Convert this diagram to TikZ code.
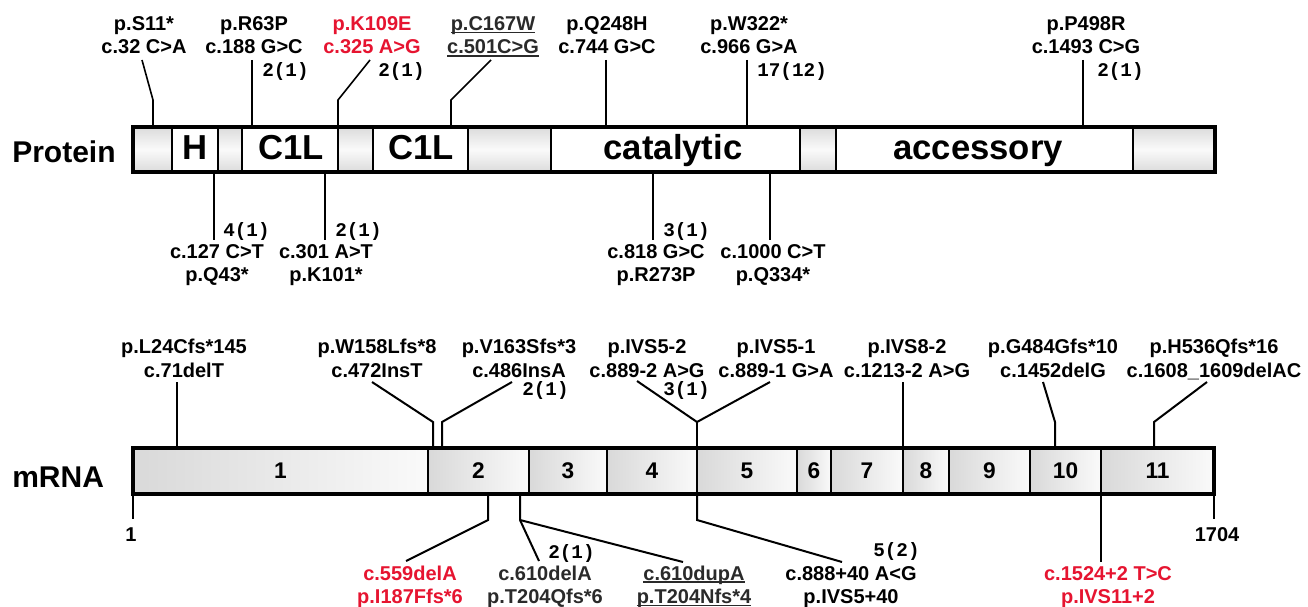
\documentclass[tikz,border=0pt]{standalone}
\usepackage{fontspec}
\setmainfont{Liberation Sans}
\newfontfamily\cntfont{Liberation Mono}
\usetikzlibrary{calc}
\definecolor{mred}{RGB}{230,20,48}
\definecolor{dgray}{RGB}{42,42,42}
\newcommand\toplab[2]{\begin{tabular}[b]{@{}c@{}}#1\\#2\end{tabular}}
\newcommand\botlab[2]{\begin{tabular}[t]{@{}c@{}}#1\\#2\end{tabular}}
\newcommand\myul[1]{\setbox0\hbox{#1}\rlap{\rule[-2pt]{\wd0}{1pt}}\box0}
\tikzset{
  lab/.style={font=\fontsize{15}{17.6}\selectfont\bfseries, inner sep=0pt, outer sep=0pt, anchor=base},
  cnt/.style={font=\cntfont\fontsize{14.5}{16}\selectfont\bfseries, inner sep=0pt, anchor=west},
  pconn/.style={line width=1.2pt},
  mconn/.style={line width=1.5pt},
  segbase/.style={draw, line width=1.6pt, inner sep=0pt, outer sep=0pt, anchor=north west},
  pg/.style={segbase, minimum height=33.75pt, top color=gray!28, bottom color=gray!28, middle color=gray!4},
  pw/.style={segbase, minimum height=33.75pt, fill=white},
  ex/.style={segbase, minimum height=34.5pt, left color=gray!30, right color=gray!4, font=\fontsize{17}{20}\selectfont\bfseries},
  frame/.style={draw, line width=2.5pt, inner sep=0pt, outer sep=0pt, anchor=north west},
  dom/.style={font=\fontsize{26}{30}\selectfont\bfseries, inner sep=0pt, anchor=base},
  side/.style={font=\fontsize{22.5}{27}\selectfont\bfseries, inner sep=0pt, anchor=base west},
}
\begin{document}
\begin{tikzpicture}[x=0.75pt,y=-0.75pt]
\useasboundingbox (0,0) rectangle (1308,606);
\fill[white] (0,0) rectangle (1308,606);

% ---------------- Protein bar
\foreach \a/\b/\s/\nm in {133/172/pg/ps1, 172/218/pw/ps2, 218/242/pg/ps3, 242/338/pw/ps4, 338/373/pg/ps5, 373/468/pw/ps6, 468/551/pg/ps7, 551/800/pw/ps8, 800/836/pg/ps9, 836/1133/pw/ps10, 1133/1215/pg/ps11}
  \node[\s, minimum width={(\b-\a)*0.75pt}] (\nm) at (\a,127) {};
\node[frame, minimum width={1082*0.75pt}, minimum height=33.75pt] (prot) at (133,127) {};

\node[dom] (dH) at (195,160) {H};
\node[dom] (dC1) at (291,160) {C1L};
\node[dom] (dC2) at (421,160) {C1L};
\node[dom] (dcat) at (673,160) {catalytic};
\node[dom] (dacc) at (978,160) {accessory};

\node[side] (protlbl) at (12,162) {Protein};

% top protein labels
\node[lab] (tS11) at (144,54) {\toplab{p.S11*}{c.32 C>A}};
\node[lab] (tR63) at (254,54) {\toplab{p.R63P}{c.188 G>C}};
\node[lab, text=mred] (tK109) at (372,54) {\toplab{p.K109E}{c.325 A>G}};
\node[lab, text=dgray] (tC167) at (493,54) {\toplab{\myul{p.C167W}}{\myul{c.501C>G}}};
\node[lab] (tQ248) at (607,54) {\toplab{p.Q248H}{c.744 G>C}};
\node[lab] (tW322) at (749,54) {\toplab{p.W322*}{c.966 G>A}};
\node[lab] (tP498) at (1086,54) {\toplab{p.P498R}{c.1493 C>G}};

\node[cnt] (cR63) at (262,72) {2(1)};
\node[cnt] (cK109) at (378,72) {2(1)};
\node[cnt] (cW322) at (757,72) {17(12)};
\node[cnt] (cP498) at (1097,72) {2(1)};

\coordinate (sS11) at ([shift={(-2,6)}]tS11.base);
\coordinate (sR63) at ([shift={(-2,6)}]tR63.base);
\coordinate (sK109) at ([shift={(-2,6)}]tK109.base);
\coordinate (sC167) at ([shift={(-2,6)}]tC167.base);
\coordinate (sQ248) at ([shift={(-1,6)}]tQ248.base);
\coordinate (sW322) at ([shift={(-2,6)}]tW322.base);
\coordinate (sP498) at ([shift={(-3,6)}]tP498.base);
\coordinate (bS11) at (153,100);
\coordinate (bK109) at (338,100);
\coordinate (bC167) at (451,100);

\draw[pconn] (sS11) -- (bS11) -- (bS11 |- prot.north);
\draw[pconn] (sR63) -- (sR63 |- prot.north);
\draw[pconn] (sK109) -- (bK109) -- (bK109 |- prot.north);
\draw[pconn] (sC167) -- (bC167) -- (bC167 |- prot.north);
\draw[pconn] (sQ248) -- (sQ248 |- prot.north);
\draw[pconn] (sW322) -- (sW322 |- prot.north);
\draw[pconn] (sP498) -- (sP498 |- prot.north);

% bottom protein labels
\node[lab] (bQ43) at (217,258) {\botlab{c.127 C>T}{p.Q43*}};
\node[lab] (bK101) at (326,258) {\botlab{c.301 A>T}{p.K101*}};
\node[lab] (bR273) at (656,258) {\botlab{c.818 G>C}{p.R273P}};
\node[lab] (bQ334) at (773,258) {\botlab{c.1000 C>T}{p.Q334*}};

\node[cnt] (cQ43) at (223,231) {4(1)};
\node[cnt] (cK101) at (335,231) {2(1)};
\node[cnt] (cR273) at (663,231) {3(1)};

\coordinate (eQ43) at ([shift={(-3,-18)}]bQ43.base);
\coordinate (eK101) at ([shift={(-1,-18)}]bK101.base);
\coordinate (eR273) at ([shift={(-3,-18)}]bR273.base);
\coordinate (eQ334) at ([shift={(-3,-18)}]bQ334.base);
\draw[pconn] (eQ43 |- prot.south) -- (eQ43);
\draw[pconn] (eK101 |- prot.south) -- (eK101);
\draw[pconn] (eR273 |- prot.south) -- (eR273);
\draw[pconn] (eQ334 |- prot.south) -- (eQ334);

% ---------------- mRNA bar
\foreach \a/\b/\t/\nm in {133/428/1/e1, 428/529/2/e2, 529/607/3/e3, 607/697/4/e4, 697/797/5/e5, 797/831/6/e6, 831/903/7/e7, 903/949/8/e8, 949/1030/9/e9, 1030/1101/10/e10, 1101/1214/11/e11}
  \node[ex, minimum width={(\b-\a)*0.75pt}] (\nm) at (\a,448) {\t};
\node[frame, minimum width={1081*0.75pt}, minimum height=34.5pt] (mrna) at (133,448) {};

\node[side] (mrnalbl) at (12,487) {mRNA};

\node[lab, font=\fontsize{15}{18}\selectfont\bfseries] (one) at (131,541) {1};
\node[lab, font=\fontsize{15}{18}\selectfont\bfseries] (len) at (1217,541) {1704};
\coordinate (tk1) at (133,519);
\coordinate (tk2) at (1214,519);
\draw[mconn] (mrna.south west) -- (tk1);
\draw[mconn] (mrna.south east) -- (tk2);

% top mRNA labels
\node[lab] (mL24) at (184,377) {\toplab{p.L24Cfs*145}{c.71delT}};
\node[lab] (mW158) at (377,377) {\toplab{p.W158Lfs*8}{c.472InsT}};
\node[lab] (mV163) at (519,377) {\toplab{p.V163Sfs*3}{c.486InsA}};
\node[lab] (mIVS52) at (647,377) {\toplab{p.IVS5-2}{c.889-2 A>G}};
\node[lab] (mIVS51) at (776,377) {\toplab{p.IVS5-1}{c.889-1 G>A}};
\node[lab] (mIVS82) at (907,377) {\toplab{p.IVS8-2}{c.1213-2 A>G}};
\node[lab] (mG484) at (1053,377) {\toplab{p.G484Gfs*10}{c.1452delG}};
\node[lab] (mH536) at (1214,377) {\toplab{p.H536Qfs*16}{c.1608\_1609delAC}};

\node[cnt] (cV163) at (522,390) {2(1)};
\node[cnt] (cIVS5) at (663,390) {3(1)};

\coordinate (sL24) at ([shift={(-7,5)}]mL24.base);
\coordinate (sW158) at ([shift={(-5,5)}]mW158.base);
\coordinate (sV163) at ([shift={(-7,5)}]mV163.base);
\coordinate (sIVS52) at ([shift={(-10,4)}]mIVS52.base);
\coordinate (sIVS51) at ([shift={(-6,5)}]mIVS51.base);
\coordinate (sIVS82) at ([shift={(-4,5)}]mIVS82.base);
\coordinate (sG484) at ([shift={(-10,5)}]mG484.base);
\coordinate (sH536) at ([shift={(-7,5)}]mH536.base);
\coordinate (bW158) at (433,422);
\coordinate (bV163) at (442,422);
\coordinate (bIVS5) at (697,422);
\coordinate (bG484) at (1055,422);
\coordinate (bH536) at (1154,422);

\draw[mconn] (sL24) -- (sL24 |- mrna.north);
\draw[mconn] (sW158) -- (bW158) -- (bW158 |- mrna.north);
\draw[mconn] (sV163) -- (bV163) -- (bV163 |- mrna.north);
\draw[mconn] (sIVS52) -- (bIVS5) -- (sIVS51);
\draw[mconn] (bIVS5) -- (bIVS5 |- mrna.north);
\draw[mconn] (sIVS82) -- (sIVS82 |- mrna.north);
\draw[mconn] (sG484) -- (bG484) -- (bG484 |- mrna.north);
\draw[mconn] (sH536) -- (bH536) -- (bH536 |- mrna.north);

% bottom mRNA labels
\node[lab, text=mred] (n559) at (410,580) {\botlab{c.559delA}{p.I187Ffs*6}};
\node[lab, text=dgray] (n610d) at (545,580) {\botlab{c.610delA}{p.T204Qfs*6}};
\node[lab, text=dgray] (n610u) at (694,580) {\botlab{\myul{c.610dupA}}{\myul{p.T204Nfs*4}}};
\node[lab] (n888) at (851,580) {\botlab{c.888+40 A<G}{p.IVS5+40}};
\node[lab, text=mred] (n1524) at (1108,580) {\botlab{c.1524+2 T>C}{p.IVS11+2}};

\node[cnt] (c610) at (548,553) {2(1)};
\node[cnt] (c888) at (873,551) {5(2)};

\coordinate (e559) at ([shift={(-4,-19)}]n559.base);
\coordinate (e610d) at ([shift={(-6,-19)}]n610d.base);
\coordinate (e610u) at ([shift={(-11,-18)}]n610u.base);
\coordinate (e888) at ([shift={(-9,-18)}]n888.base);
\coordinate (e1524) at ([shift={(-7,-18)}]n1524.base);
\coordinate (j559) at (488,520);
\coordinate (j610) at (520,520);
\coordinate (j888) at (697,520);

\draw[mconn] (j559 |- mrna.south) -- (j559) -- (e559);
\draw[mconn] (j610 |- mrna.south) -- (j610) -- (e610d);
\draw[mconn] (j610) -- (e610u);
\draw[mconn] (j888 |- mrna.south) -- (j888) -- (e888);
\draw[mconn] (e1524 |- mrna.south) -- (e1524);
\end{tikzpicture}
\end{document}
